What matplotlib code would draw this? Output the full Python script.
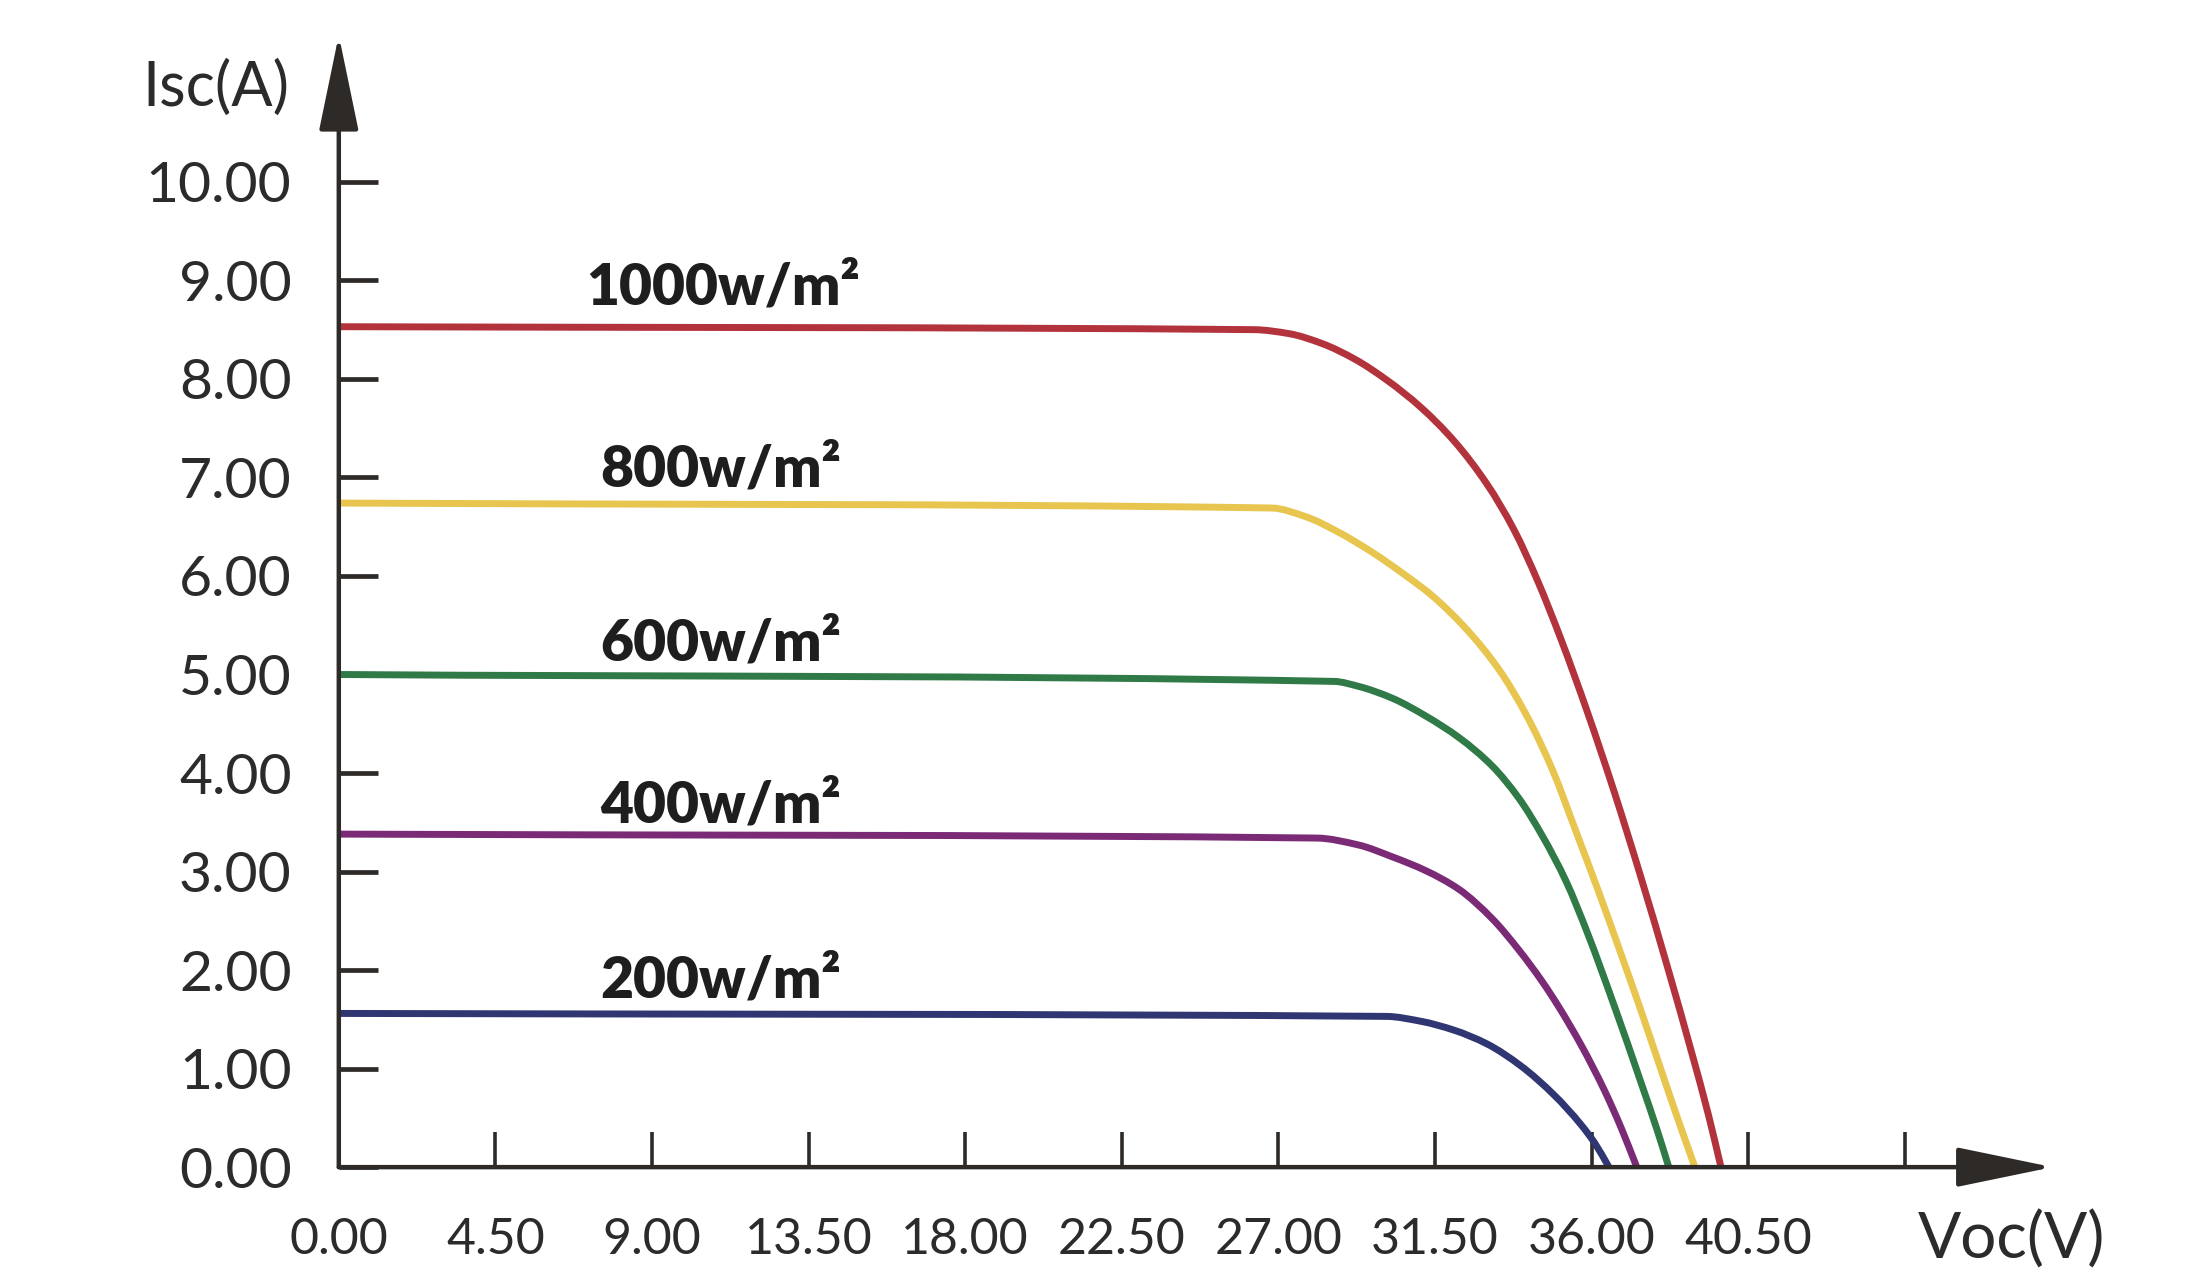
import matplotlib
matplotlib.use("Agg")
import matplotlib.pyplot as plt
from matplotlib import font_manager
from matplotlib.path import Path
from matplotlib.patches import PathPatch

# ---------------- data ----------------
v_1000 = [0, 26.3, 27.3, 28.25, 29.2, 30.15, 31.1, 32.05, 33.0, 33.77, 34.44, 35.12, 35.89, 36.66, 37.43, 38.2, 38.88, 39.36, 39.72]
i_1000 = [8.53, 8.50, 8.46, 8.36, 8.20, 7.98, 7.71, 7.37, 6.93, 6.47, 5.96, 5.36, 4.61, 3.80, 2.93, 2.01, 1.16, 0.53, 0.0]

v_800 = [0, 26.8, 27.8, 28.7, 29.7, 30.6, 31.42, 32.38, 33.34, 34.11, 34.88, 35.55, 36.23, 36.8, 37.38, 37.9, 38.4, 38.97]
i_800 = [6.74, 6.69, 6.60, 6.45, 6.24, 6.02, 5.80, 5.47, 5.05, 4.60, 4.03, 3.41, 2.77, 2.21, 1.63, 1.09, 0.57, 0.0]

v_600 = [0, 28.6, 29.3, 30.27, 31.23, 32.19, 33.15, 33.92, 34.59, 35.27, 35.89, 36.66, 37.43, 37.91, 38.22]
i_600 = [5.00, 4.93, 4.88, 4.76, 4.58, 4.36, 4.07, 3.74, 3.36, 2.90, 2.37, 1.63, 0.85, 0.35, 0.0]

v_400 = [0, 28.1, 29.3, 30.27, 31.23, 32.19, 33.15, 33.92, 34.59, 35.07, 35.7, 36.37, 36.85, 37.3]
i_400 = [3.38, 3.34, 3.27, 3.15, 3.01, 2.82, 2.52, 2.20, 1.88, 1.62, 1.24, 0.78, 0.40, 0.0]

v_200 = [0, 30.1, 31.1, 32.05, 33.0, 33.96, 34.93, 35.7, 36.1, 36.5]
i_200 = [1.56, 1.53, 1.48, 1.39, 1.25, 1.03, 0.73, 0.43, 0.24, 0.0]

series_labels = ["1000w/m²", "800w/m²", "600w/m²", "400w/m²", "200w/m²"]
label_x = [7.1, 7.5, 7.5, 7.5, 7.5]
label_y = [8.93, 7.08, 5.31, 3.67, 1.89]

x_ticks = [0, 4.5, 9, 13.5, 18, 22.5, 27, 31.5, 36, 40.5, 45]
x_tick_labels = ["0.00", "4.50", "9.00", "13.50", "18.00", "22.50", "27.00",
                 "31.50", "36.00", "40.50", ""]
y_ticks = [0, 1, 2, 3, 4, 5, 6, 7, 8, 9, 10]
y_tick_labels = ["0.00", "1.00", "2.00", "3.00", "4.00", "5.00", "6.00",
                 "7.00", "8.00", "9.00", "10.00"]

x_title = "Voc(V)"
y_title = "Isc(A)"

colors = ["#b3333d", "#e8c54e", "#2f7a46", "#7b2b76", "#2f3671"]

# ---------------- fonts ----------------
available = {f.name for f in font_manager.fontManager.ttflist}
main_font = "Lato" if "Lato" in available else "DejaVu Sans"
narrow_font = "Liberation Sans Narrow" if "Liberation Sans Narrow" in available else main_font
plt.rcParams["font.family"] = [main_font, "DejaVu Sans"]

text_color = "#2b2b2b"
axis_color = "#2e2a28"


def smooth_line_path(x, y):
    """Smooth (monotone cubic Bezier) rendering of a polyline through the given points."""
    n = len(x)
    h = [x[k + 1] - x[k] for k in range(n - 1)]
    d = [(y[k + 1] - y[k]) / h[k] for k in range(n - 1)]
    m = [0.0] * n
    m[0] = d[0]
    m[-1] = d[-1]
    for k in range(1, n - 1):
        if d[k - 1] * d[k] <= 0:
            m[k] = 0.0
        else:
            h0, h1 = h[k - 1], h[k]
            m[k] = 3 * (h0 + h1) / ((2 * h1 + h0) / d[k - 1] + (h1 + 2 * h0) / d[k])
    verts = [(x[0], y[0])]
    codes = [Path.MOVETO]
    for k in range(n - 1):
        t = h[k] / 3.0
        verts += [(x[k] + t, y[k] + m[k] * t),
                  (x[k + 1] - t, y[k + 1] - m[k + 1] * t),
                  (x[k + 1], y[k + 1])]
        codes += [Path.CURVE4] * 3
    return Path(verts, codes)


fig = plt.figure(figsize=(22, 12.75), dpi=100)
fig.patch.set_facecolor("white")
ax = fig.add_axes([0.154, 0.0846, 0.933 - 0.154, 0.9725 - 0.0846])

xs = [v_1000, v_800, v_600, v_400, v_200]
ys = [i_1000, i_800, i_600, i_400, i_200]
for v, i, c in zip(xs, ys, colors):
    patch = PathPatch(smooth_line_path(v, i), facecolor="none", edgecolor=c, lw=5,
                      capstyle="butt", joinstyle="round", transform=ax.transData,
                      clip_on=False, zorder=3)
    ax.add_patch(patch)

for t, x, y in zip(series_labels, label_x, label_y):
    ax.text(x, y, t, fontsize=41, fontweight="heavy", color="#1e1e1e",
            ha="left", va="center", zorder=4)

ax.set_xlim(0, 49.25)
ax.set_ylim(0, 11.49)

for s in ax.spines.values():
    s.set_visible(False)

ax.set_xticks(x_ticks)
ax.set_xticklabels(x_tick_labels)
ax.set_yticks(y_ticks)
ax.set_yticklabels(y_tick_labels)

ax.tick_params(axis="x", direction="in", length=25, width=2.6, color=axis_color,
               pad=36, labelsize=36, labelcolor=text_color)
ax.tick_params(axis="y", direction="in", length=28, width=3.4, color=axis_color,
               pad=34, labelsize=41, labelcolor=text_color)
for lab in ax.get_xticklabels():
    lab.set_fontfamily([narrow_font, "DejaVu Sans"])

# axis lines with arrow heads
arrow = dict(arrowstyle="-|>,head_length=3.0,head_width=0.62", lw=3.2,
             color=axis_color, shrinkA=0, shrinkB=0, mutation_scale=20)
ax.annotate("", xy=(0, 1), xytext=(0, 0), xycoords="axes fraction",
            textcoords="axes fraction", arrowprops=arrow, zorder=5)
ax.annotate("", xy=(1, 0), xytext=(0, 0), xycoords="axes fraction",
            textcoords="axes fraction", arrowprops=arrow, zorder=5)

# axis titles
ax.text(-0.029, 0.953, y_title, transform=ax.transAxes, fontsize=44,
        color=text_color, ha="right", va="center")
ax.text(48.07, -0.74, x_title, fontsize=46, color=text_color,
        ha="center", va="center", clip_on=False)

fig.savefig("out.png", dpi=100, facecolor="white")
